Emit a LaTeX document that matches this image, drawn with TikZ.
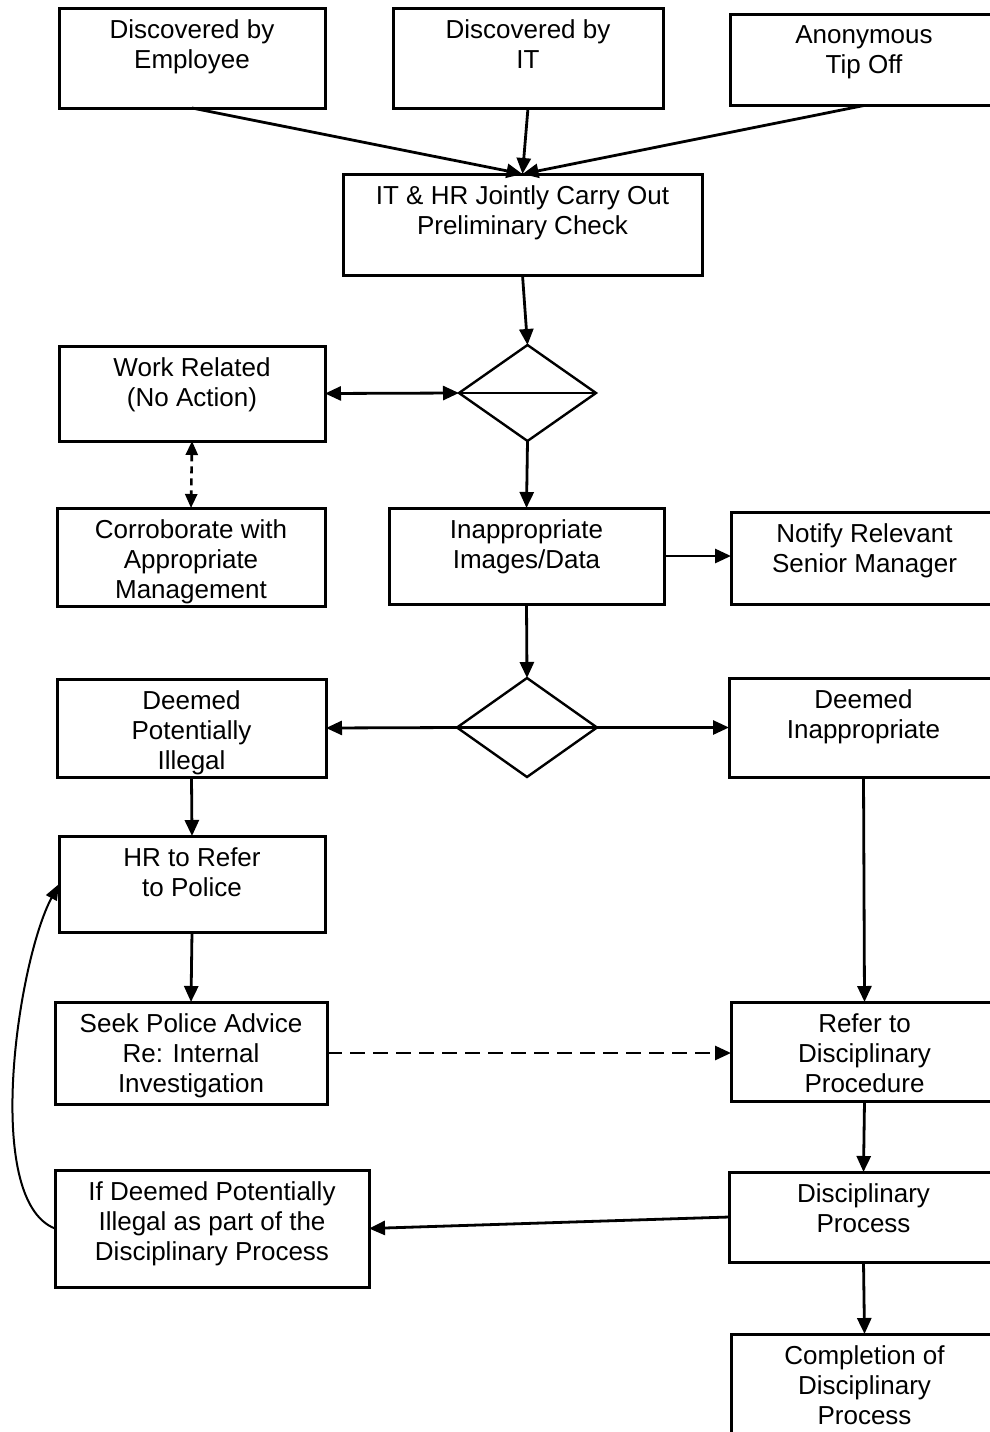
\documentclass[tikz,border=0pt]{standalone}
\usepackage{fontspec}
\setmainfont{Liberation Sans}
\usetikzlibrary{arrows.meta,shapes.geometric}
\newcommand\mybox[6]{\node[box,minimum width=#4pt,minimum height=#5pt,label={[lab]north:{#6}}] (#1) at (#2,#3) {};}
\begin{document}
\begin{tikzpicture}[x=1pt,y=-1pt,
  box/.style={draw,line width=3pt,rectangle,inner sep=0pt,outer sep=0pt},
  lab/.style={anchor=north,align=center,inner sep=0pt,yshift=-11pt,font=\fontsize{26}{30}\selectfont},
  dia/.style={draw,diamond,line width=2.4pt,inner sep=0pt,outer sep=0pt},
  conn/.style={line width=2.8pt,-{Triangle[length=16pt,width=14pt]}},
  bconn/.style={line width=2.8pt,{Triangle[length=16pt,width=14pt]}-{Triangle[length=16pt,width=14pt]}},
  dconn/.style={line width=2.8pt,dash pattern=on 15pt off 8pt,-{Triangle[length=16pt,width=14pt]}},
  ddconn/.style={line width=2.6pt,dash pattern=on 7pt off 5pt,{Triangle[length=14pt,width=12pt]}-{Triangle[length=14pt,width=12pt]}},
  curv/.style={line width=2pt,-{Triangle[length=16pt,width=12pt]}},
  mid/.style={line width=2.4pt}]
\useasboundingbox[fill=white] (0,0) rectangle (990,1432);

\mybox{emp}{192}{58}{266}{100}{Discovered by\\Employee}
\mybox{it}{528}{58}{270}{100}{Discovered by\\IT}
\mybox{anon}{864}{60}{268}{91}{Anonymous\\Tip Off}
\mybox{pre}{522.5}{224.5}{359}{101}{IT \& HR Jointly Carry Out\\Preliminary Check}
\node[dia,minimum width=137pt,minimum height=96pt] (d1) at (527.5,393) {};
\mybox{work}{192}{393.5}{266}{95}{Work Related\\(No Action)}
\mybox{corr}{191}{557}{268}{98}{Corroborate with\\Appropriate\\Management}
\mybox{inap}{526.5}{556}{275}{96}{Inappropriate\\Images/Data}
\mybox{noti}{864.5}{558}{267}{92}{Notify Relevant\\Senior Manager}
\node[dia,minimum width=140pt,minimum height=99pt] (d2) at (527,727.5) {};
\mybox{dpi}{191.5}{728}{269}{98}{Deemed\\Potentially\\Illegal}
\mybox{di}{863.5}{727.5}{269}{99}{Deemed\\Inappropriate}
\mybox{hr}{192}{884}{266}{96}{HR to Refer\\to Police}
\mybox{seek}{191}{1053}{272}{102}{Seek Police Advice\\Re: Internal\\Investigation}
\mybox{ref}{864.5}{1051.5}{267}{99}{Refer to\\Disciplinary\\Procedure}
\mybox{ifd}{212}{1228.5}{314}{117}{If Deemed Potentially\\Illegal as part of the\\Disciplinary Process}
\mybox{dp}{863.5}{1217}{269}{90}{Disciplinary\\Process}
\mybox{comp}{864.5}{1387}{267}{106}{Completion of\\Disciplinary\\Process}

\draw[mid] (d1.west) -- (d1.east);
\draw[mid] (d2.west) -- (d2.east);

\draw[conn] (emp.south) -- (pre.north);
\draw[conn] (it.south) -- (pre.north);
\draw[conn] (anon.south) -- (pre.north);
\draw[conn] (pre.south) -- (d1.north);
\draw[bconn] (work.east) -- (d1.west);
\draw[ddconn] (work.south) -- (corr.north);
\draw[conn] (d1.south) -- (inap.north);
\draw[conn] (inap.east) -- (inap.east -| noti.west);
\draw[conn] (inap.south) -- (d2.north);
\draw[conn] (d2.west) -- (dpi.east);
\draw[conn] (d2.east) -- (di.west);
\draw[conn] (dpi.south) -- (hr.north);
\draw[conn] (di.south) -- (ref.north);
\draw[conn] (hr.south) -- (seek.north);
\draw[dconn] (seek.east) -- (seek.east -| ref.west);
\draw[conn] (ref.south) -- (dp.north);
\draw[conn] (dp.west) -- (ifd.east);
\draw[conn] (dp.south) -- (comp.north);
\draw[curv] (ifd.west) .. controls (-18,1200) and (18,960) .. (hr.west);
\end{tikzpicture}
\end{document}
